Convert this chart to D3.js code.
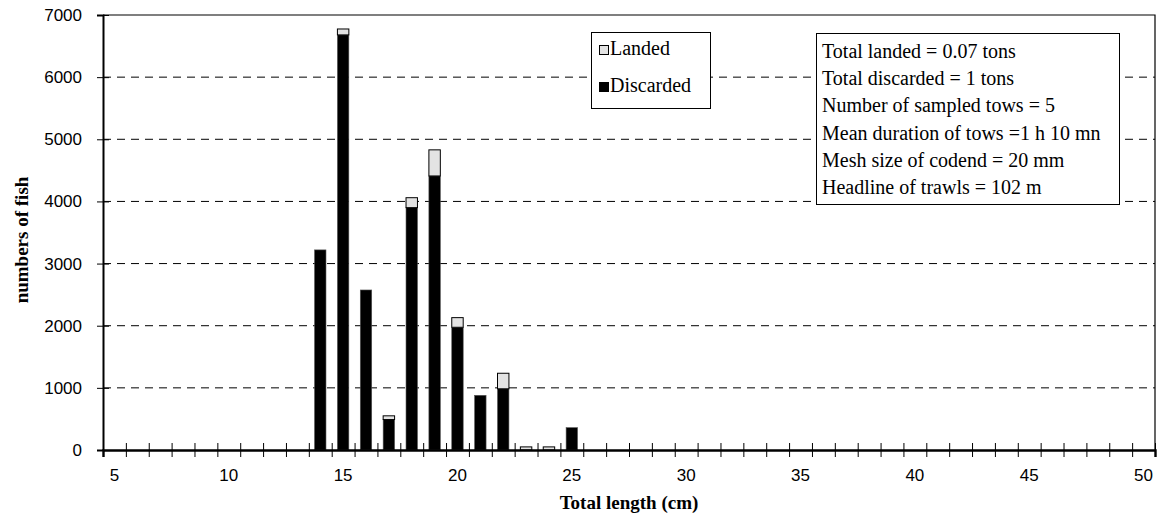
<!DOCTYPE html>
<html>
<head>
<meta charset="utf-8">
<script src="https://cdn.jsdelivr.net/npm/d3@7"></script>
<style>
  html, body { margin: 0; padding: 0; background: #fff; }
  svg { display: block; }
</style>
</head>
<body>
<svg id="chart" width="1163" height="530"></svg>
<script>
// Length classes (cm) and numbers of fish per class
const lengths = d3.range(5, 51);
const discarded = { 14: 3220, 15: 6680, 16: 2575, 17: 490, 18: 3900, 19: 4410, 20: 1975, 21: 880, 22: 985, 25: 360 };
const landed = { 15: 95, 17: 60, 18: 160, 19: 420, 20: 155, 22: 250, 23: 50, 24: 50 };
const yTicks = [0, 1000, 2000, 3000, 4000, 5000, 6000, 7000];
const xLabels = [5, 10, 15, 20, 25, 30, 35, 40, 45, 50];
const seriesNames = ["Landed", "Discarded"];
const infoLines = [
  "Total landed = 0.07 tons",
  "Total discarded = 1 tons",
  "Number of sampled tows = 5",
  "Mean duration of tows =1 h 10 mn",
  "Mesh size of codend = 20 mm",
  "Headline of trawls = 102 m"
];

const svg = d3.select("#chart");
const plotL = 103, plotR = 1155, plotT = 15, plotB = 450;

const x = d3.scaleBand().domain(lengths).range([plotL, plotR]).paddingInner(0.5).paddingOuter(0.25);
const xEdge = d3.scaleLinear().domain([4.5, 50.5]).range([plotL, plotR]);
const y = d3.scaleLinear().domain([0, 7000]).range([plotB, plotT]);

const serif = "'Liberation Serif', 'Times New Roman', serif";
const sans = "'Liberation Sans', Arial, sans-serif";

// dashed horizontal gridlines
svg.append("g").selectAll("line").data(yTicks.filter(v => v > 0 && v < 7000)).join("line")
  .attr("x1", plotL).attr("x2", plotR)
  .attr("y1", d => y(d)).attr("y2", d => y(d))
  .attr("stroke", "#000").attr("stroke-width", 1)
  .attr("stroke-dasharray", "8,6");

// plot frame (top and right)
svg.append("path")
  .attr("d", `M${plotL},${plotT}H${plotR}V${plotB}`)
  .attr("fill", "none").attr("stroke", "#000").attr("stroke-width", 1.2);

// stacked bars: discarded at the base, landed on top
const rows = lengths.map(l => ({ len: l, disc: discarded[l] || 0, land: landed[l] || 0 }));
const bars = svg.append("g");
bars.selectAll("rect.disc").data(rows.filter(r => r.disc > 0)).join("rect")
  .attr("class", "disc")
  .attr("x", d => x(d.len)).attr("width", x.bandwidth())
  .attr("y", d => y(d.disc)).attr("height", d => y(0) - y(d.disc))
  .attr("fill", "#000").attr("stroke", "#555").attr("stroke-width", 0.6);
bars.selectAll("rect.land").data(rows.filter(r => r.land > 0)).join("rect")
  .attr("class", "land")
  .attr("x", d => x(d.len)).attr("width", x.bandwidth())
  .attr("y", d => y(d.disc + d.land)).attr("height", d => y(d.disc) - y(d.disc + d.land))
  .attr("fill", "#e3e3e3").attr("stroke", "#000").attr("stroke-width", 1);

// y axis
const yAxis = svg.append("g").attr("transform", `translate(${plotL},0)`)
  .call(d3.axisLeft(y).tickValues(yTicks).tickSize(6).tickPadding(15).tickFormat(d3.format("d")));
yAxis.select(".domain").attr("stroke", "#000").attr("stroke-width", 2);
yAxis.selectAll(".tick line").attr("x1", 6).attr("stroke", "#000");
yAxis.selectAll(".tick text").attr("font-family", sans).attr("font-size", 17).attr("fill", "#000");

// x axis: cross ticks at class boundaries
const xAxis = svg.append("g").attr("transform", `translate(0,${plotB})`)
  .call(d3.axisBottom(xEdge).tickValues(d3.range(4.5, 51, 1)).tickSize(7).tickFormat(""));
xAxis.select(".domain").attr("stroke", "#000").attr("stroke-width", 2.4);
xAxis.selectAll(".tick line").attr("y1", -7).attr("stroke", "#000");

svg.append("g").selectAll("text").data(xLabels).join("text")
  .attr("x", d => x(d) + x.bandwidth() / 2)
  .attr("y", 481)
  .attr("text-anchor", "middle")
  .attr("font-family", sans).attr("font-size", 17)
  .text(d => d);

// axis titles
svg.append("text")
  .attr("x", (plotL + plotR) / 2).attr("y", 509)
  .attr("text-anchor", "middle")
  .attr("font-family", serif).attr("font-weight", "bold").attr("font-size", 19)
  .text("Total length (cm)");
svg.append("text")
  .attr("transform", `translate(28,240) rotate(-90)`)
  .attr("text-anchor", "middle")
  .attr("font-family", serif).attr("font-weight", "bold").attr("font-size", 19)
  .text("numbers of fish");

// legend
const legend = svg.append("g");
legend.append("rect").attr("x", 591.5).attr("y", 32.5).attr("width", 119).attr("height", 76)
  .attr("fill", "#fff").attr("stroke", "#000");
const swatchFill = { Landed: "#e3e3e3", Discarded: "#000" };
seriesNames.forEach((name, i) => {
  const base = 55 + i * 37;
  legend.append("rect").attr("x", 599.5).attr("y", base - 9.5).attr("width", 9).attr("height", 9)
    .attr("fill", swatchFill[name]).attr("stroke", "#000");
  legend.append("text").attr("x", 610).attr("y", base)
    .attr("font-family", serif).attr("font-size", 20)
    .text(name);
});

// survey summary box
const info = svg.append("g");
info.append("rect").attr("x", 816.5).attr("y", 33.5).attr("width", 303).attr("height", 171)
  .attr("fill", "#fff").attr("stroke", "#000");
info.selectAll("text").data(infoLines).join("text")
  .attr("x", 822)
  .attr("y", (d, i) => 58 + i * 27.2)
  .attr("font-family", serif).attr("font-size", 20)
  .text(d => d);
</script>
</body>
</html>
